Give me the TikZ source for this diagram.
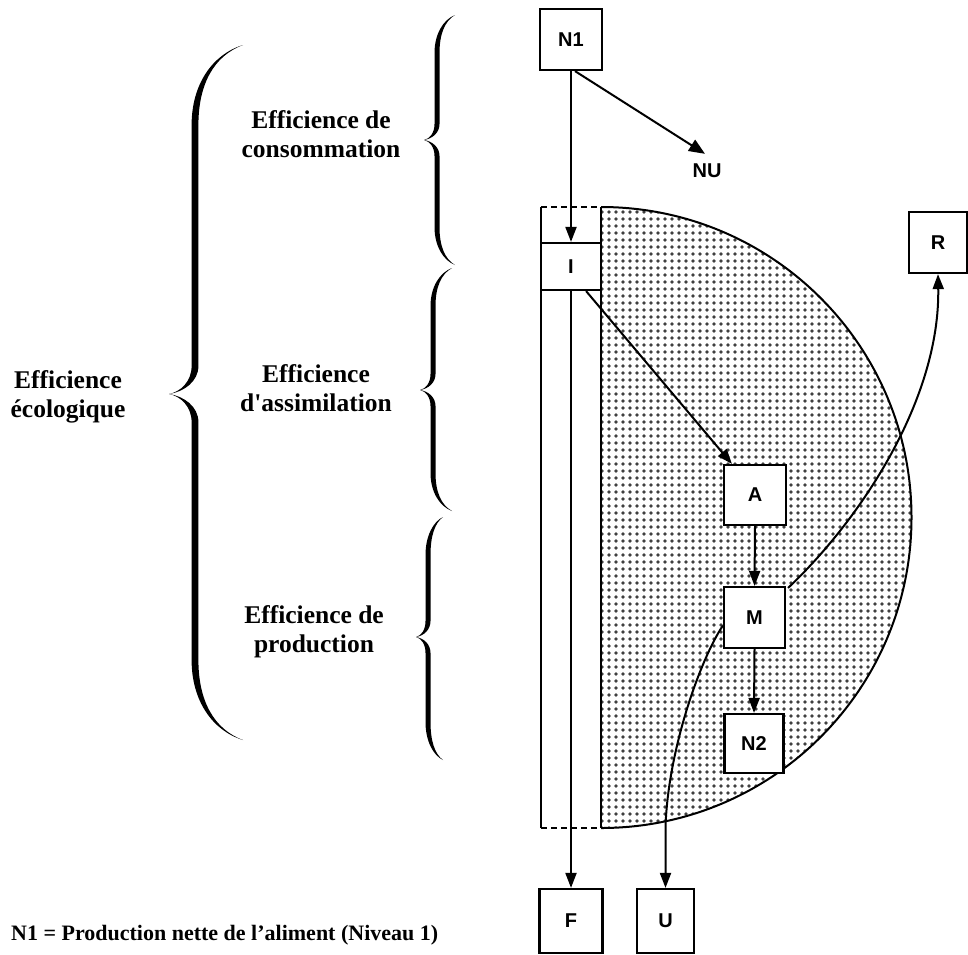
\documentclass[tikz,border=0pt]{standalone}
\usepackage{fontspec}
\setmainfont{Liberation Serif}
\newfontfamily\labfont{Liberation Sans}
\usetikzlibrary{arrows.meta,patterns.meta,calc}
\newcommand{\bw}{2}
% #1 xe, #2 spine x, #3 tip x, #4 y top, #5 y tip, #6 y bottom, #7 end curl, #8 tip curl
\newcommand{\cbrace}[8]{%
 \fill (#1,#4) .. controls ({#2+0.35*(#1-#2)},{#4+0.12*#7}) and ({#2-\bw},{#4+0.5*#7}) .. ({#2-\bw},{#4+#7})
 -- ({#2-\bw},{#5-#8}) .. controls ({#2-\bw},{#5-0.45*#8}) and ({#3+0.45*(#2-#3)},{#5-0.08*#8}) .. (#3,#5)
 .. controls ({#3+0.45*(#2-#3)},{#5+0.08*#8}) and ({#2-\bw},{#5+0.45*#8}) .. ({#2-\bw},{#5+#8})
 -- ({#2-\bw},{#6-#7}) .. controls ({#2-\bw},{#6-0.5*#7}) and ({#2+0.35*(#1-#2)},{#6-0.12*#7}) .. (#1,#6)
 .. controls ({#2+0.35*(#1-#2)+1.5},{#6-0.12*#7-1.5}) and ({#2+\bw},{#6-0.5*#7}) .. ({#2+\bw},{#6-#7})
 -- ({#2+\bw},{#5+#8}) .. controls ({#2+\bw},{#5+0.45*#8}) and ({#3+0.45*(#2-#3)+\bw},{#5+0.08*#8}) .. (#3,#5)
 .. controls ({#3+0.45*(#2-#3)+\bw},{#5-0.08*#8}) and ({#2+\bw},{#5-0.45*#8}) .. ({#2+\bw},{#5-#8})
 -- ({#2+\bw},{#4+#7}) .. controls ({#2+\bw},{#4+0.5*#7}) and ({#2+0.35*(#1-#2)+1.5},{#4+0.12*#7+1.5}) .. (#1,#4) -- cycle;}
\tikzset{
 box/.style={draw, line width=2.2pt, fill=white, inner sep=0pt,
   font=\labfont\bfseries\fontsize{20}{22}\selectfont},
 arr/.style={line width=2pt, -{Triangle[length=15pt,width=11pt]}},
 eff/.style={align=center, font=\bfseries\fontsize{25.5}{29}\selectfont, inner sep=0pt},
 colline/.style={line width=2.2pt},
 dashline/.style={line width=2.2pt, dash pattern=on 6pt off 4pt},
}
\begin{document}
\begin{tikzpicture}[x=1pt,y=-1pt]
\useasboundingbox[fill=white] (0,0) rectangle (968,954);

% dotted half disc
\fill[pattern={Dots[distance=7pt, radius=1.85pt]}, pattern color=black!75]
  (601,207) arc[start angle=90, end angle=-90, radius=310.5pt] -- cycle;
\draw[line width=2pt] (601,207) arc[start angle=90, end angle=-90, radius=310.5pt];

% column
\draw[colline] (541,207) -- (541,828);
\draw[colline] (601,207) -- (601,828);
\draw[dashline] (541,207) -- (601,207);
\draw[dashline] (541,828) -- (601,828);

% boxes
\node[box, minimum width=62pt, minimum height=61pt] (N1) at (571,39.5) {N1};
\node[box, minimum width=60pt, minimum height=47pt] (I) at (571,266.5) {I};
\node[box, minimum width=62pt, minimum height=60pt] (A) at (755,495) {A};
\node[box, minimum width=61pt, minimum height=61pt] (M) at (754.5,617.5) {M};
\node[box, minimum width=59pt, minimum height=59pt] (N2) at (754,743.5) {N2};
\node[box, minimum width=58pt, minimum height=61pt] (R) at (938,242.5) {R};
\node[box, minimum width=63pt, minimum height=64pt] (F) at (571,921) {F};
\node[box, minimum width=57pt, minimum height=64pt] (U) at (665.5,921) {U};
\node[font=\labfont\bfseries\fontsize{20}{22}\selectfont, inner sep=1pt] (NU) at (707,171) {NU};

% connectors
\draw[arr] (N1.south) -- (I.north);
\draw[line width=2pt, -{Triangle[length=16pt,width=13pt]}] ($(N1.south)+(4,0)$) -- ($(NU.north)+(-2,-9)$);
\draw[arr] (I.south) -- (F.north);
\draw[arr] ($(I.south east)+(-16,0)$) -- ($(A.north west)+(9,0)$);
\draw[arr] (A.south) -- (M.north);
\draw[arr] (M.south) -- (N2.north);
\draw[arr] ($(M.north east)+(2,2)$) .. controls (860,520) and (940,400) .. (R.south);
\draw[arr] ($(M.west)+(0,8)$) .. controls (700,660) and (668,750) .. ($(U.north)+(0,-61)$) -- (U.north);

% braces
\renewcommand{\bw}{3.4}
\cbrace{243}{195}{169}{45}{394}{740}{80}{28}
\renewcommand{\bw}{2.5}
\cbrace{455}{437}{424}{15}{140}{265}{38}{16}
\cbrace{452}{433}{420}{268}{390}{511}{38}{16}
\cbrace{443}{428}{416}{517}{637}{760}{38}{16}

% labels
\node[eff] (e1) at (321,134) {Efficience de\\consommation};
\node[eff] (e2) at (316,388) {Efficience\\d\textquotesingle assimilation};
\node[eff] (e3) at (314,632) {Efficience de\\production};
\node[eff] (e4) at (68,397) {Efficience\\écologique};
\node[anchor=west, inner sep=0pt, font=\bfseries\fontsize{22}{26}\selectfont] (leg) at (11,935)
  {N1 = Production nette de l’aliment (Niveau 1)};
\end{tikzpicture}
\end{document}
